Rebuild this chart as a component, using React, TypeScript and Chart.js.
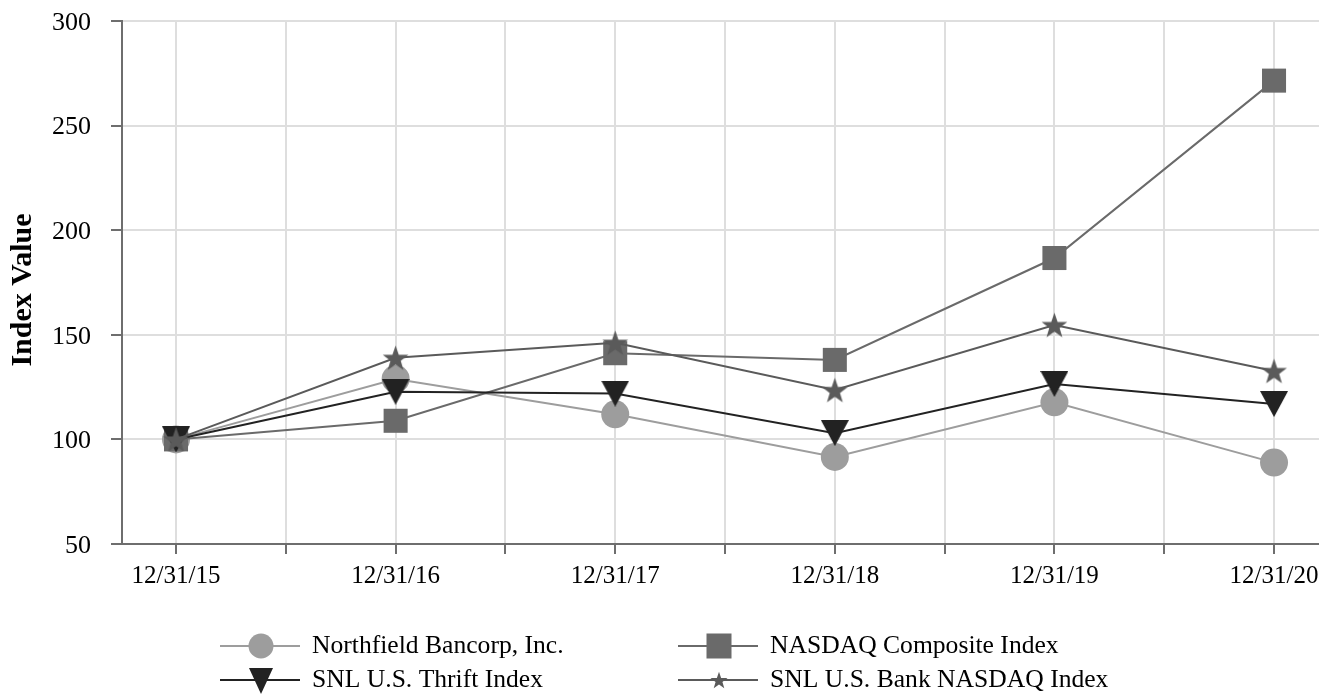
import React, { useEffect, useRef } from 'react';
import { Chart, registerables } from 'chart.js';

Chart.register(...registerables);

const xLabels = ['12/31/15', '12/31/16', '12/31/17', '12/31/18', '12/31/19', '12/31/20'];
const seriesNames = ['Northfield Bancorp, Inc.', 'NASDAQ Composite Index', 'SNL U.S. Thrift Index', 'SNL U.S. Bank NASDAQ Index'];
const northfield = [100, 128.9, 112.0, 91.6, 117.7, 88.9];
const nasdaq = [100, 108.9, 141.2, 138.0, 186.7, 271.5];
const thrift = [100, 122.8, 121.9, 103.0, 126.5, 116.9];
const bank = [100, 139.0, 146.2, 123.6, 154.7, 132.7];
const yTitle = 'Index Value';

const FONT = '"Liberation Serif", "Times New Roman", serif';
const C_NORTH = '#9d9d9d';
const C_NASDAQ = '#6a6a6a';
const C_THRIFT = '#222222';
const C_BANK = '#5a5a5a';

function makeStar(outer: number, inner: number, color: string) {
  const size = Math.ceil(outer * 2) + 2;
  const c = document.createElement('canvas');
  c.width = size;
  c.height = size;
  const ctx = c.getContext('2d')!;
  ctx.fillStyle = color;
  ctx.beginPath();
  const cy = size / 2 + outer * 0.095;
  for (let i = 0; i < 10; i++) {
    const r = i % 2 === 0 ? outer : inner;
    const a = -Math.PI / 2 + (i * Math.PI) / 5;
    const x = size / 2 + r * Math.cos(a);
    const y = cy + r * Math.sin(a);
    if (i === 0) ctx.moveTo(x, y);
    else ctx.lineTo(x, y);
  }
  ctx.closePath();
  ctx.fill();
  return c;
}

function makeTriangle(w: number, h: number, color: string) {
  const c = document.createElement('canvas');
  c.width = w;
  c.height = h;
  const ctx = c.getContext('2d')!;
  ctx.fillStyle = color;
  ctx.beginPath();
  ctx.moveTo(0, 0);
  ctx.lineTo(w, 0);
  ctx.lineTo(w / 2, h);
  ctx.closePath();
  ctx.fill();
  return c;
}

const toPoints = (arr: number[]) => arr.map((v, i) => ({ x: i, y: v }));

export default function App() {
  const ref = useRef<HTMLCanvasElement | null>(null);

  useEffect(() => {
    if (!ref.current) return;
    const starImg = makeStar(13.5, 5.4, C_BANK);
    const triImg = makeTriangle(28, 26, C_THRIFT);

    const overlay = {
      id: 'overlay',
      afterDraw(chart: any) {
        const ctx = chart.ctx as CanvasRenderingContext2D;
        ctx.save();
        ctx.translate(23, 290);
        ctx.rotate(-Math.PI / 2);
        ctx.font = `bold 30px ${FONT}`;
        ctx.fillStyle = '#000';
        ctx.textAlign = 'center';
        ctx.textBaseline = 'middle';
        ctx.fillText(yTitle, 0, 0);
        ctx.restore();

        const items = [
          { col: 0, row: 0, color: C_NORTH, kind: 'circle' },
          { col: 1, row: 0, color: C_NASDAQ, kind: 'square' },
          { col: 0, row: 1, color: C_THRIFT, kind: 'triangle' },
          { col: 1, row: 1, color: C_BANK, kind: 'star' },
        ];
        const colX = [220, 678];
        const rowY = [646, 680];
        items.forEach((it, idx) => {
          const x0 = colX[it.col];
          const y = rowY[it.row];
          const x1 = x0 + 80;
          const mx = x0 + 41;
          ctx.save();
          ctx.strokeStyle = it.color;
          ctx.lineWidth = 2;
          ctx.beginPath();
          ctx.moveTo(x0, y);
          ctx.lineTo(x1, y);
          ctx.stroke();
          ctx.fillStyle = it.color;
          if (it.kind === 'circle') {
            ctx.beginPath();
            ctx.arc(mx, y, 12.5, 0, Math.PI * 2);
            ctx.fill();
          } else if (it.kind === 'square') {
            ctx.fillRect(mx - 12.5, y - 12.5, 25, 25);
          } else if (it.kind === 'triangle') {
            ctx.beginPath();
            ctx.moveTo(mx - 12, y - 12);
            ctx.lineTo(mx + 12, y - 12);
            ctx.lineTo(mx, y + 14);
            ctx.closePath();
            ctx.fill();
          } else {
            const s = makeStar(9, 3.6, it.color);
            ctx.drawImage(s, mx - s.width / 2, y - s.height / 2);
          }
          ctx.fillStyle = '#000';
          ctx.font = `25.6px ${FONT}`;
          ctx.textAlign = 'left';
          ctx.textBaseline = 'middle';
          ctx.fillText(seriesNames[idx], x1 + 12, y);
          ctx.restore();
        });
      },
    };

    const chart = new Chart(ref.current, {
      type: 'line',
      data: {
        datasets: [
          {
            label: seriesNames[0],
            data: toPoints(northfield),
            borderColor: C_NORTH,
            backgroundColor: C_NORTH,
            borderWidth: 2,
            pointStyle: 'circle',
            pointRadius: 14,
            pointBorderWidth: 0,
            order: 4,
          },
          {
            label: seriesNames[1],
            data: toPoints(nasdaq),
            borderColor: C_NASDAQ,
            backgroundColor: C_NASDAQ,
            borderWidth: 2,
            pointStyle: 'rect',
            pointRadius: 17,
            pointBorderWidth: 0,
            order: 3,
          },
          {
            label: seriesNames[2],
            data: toPoints(thrift),
            borderColor: C_THRIFT,
            backgroundColor: C_THRIFT,
            borderWidth: 2,
            pointStyle: triImg as any,
            pointRadius: 14,
            order: 2,
          },
          {
            label: seriesNames[3],
            data: toPoints(bank),
            borderColor: C_BANK,
            backgroundColor: C_BANK,
            borderWidth: 2,
            pointStyle: starImg as any,
            pointRadius: 14,
            order: 1,
          },
        ],
      },
      options: {
        animation: false,
        responsive: false,
        events: [],
        layout: { padding: { left: 0, top: 21, right: 5, bottom: 100 } },
        plugins: {
          legend: { display: false },
          tooltip: { enabled: false },
          title: { display: false },
        },
        elements: { line: { tension: 0 } },
        scales: {
          x: {
            type: 'linear',
            min: -0.246,
            max: 5.223,
            afterBuildTicks: (scale: any) => {
              const t = [];
              for (let i = 0; i <= 2 * (xLabels.length - 1); i++) t.push({ value: i / 2 });
              scale.ticks = t;
            },
            afterFit: (scale: any) => {
              scale.height = 54;
              scale.paddingLeft = 0;
              scale.paddingRight = 0;
              scale.paddingTop = 0;
              scale.paddingBottom = 0;
            },
            grid: {
              color: '#dedede',
              lineWidth: 2,
              tickColor: '#6e6e6e',
              tickLength: 10,
              drawTicks: true,
            },
            border: { color: '#6e6e6e', width: 2 },
            ticks: {
              autoSkip: false,
              maxRotation: 0,
              padding: 7,
              color: '#000',
              font: { family: FONT, size: 25 },
              callback: (v: any) => (Number.isInteger(v) ? xLabels[v] : ''),
            },
          },
          y: {
            min: 50,
            max: 300,
            afterFit: (scale: any) => {
              scale.width = 122;
              scale.paddingLeft = 0;
              scale.paddingRight = 0;
              scale.paddingTop = 0;
              scale.paddingBottom = 0;
            },
            grid: {
              color: '#dedede',
              lineWidth: 2,
              tickColor: '#6e6e6e',
              tickLength: 11,
            },
            border: { color: '#6e6e6e', width: 2 },
            ticks: {
              stepSize: 50,
              padding: 20,
              labelOffset: 2,
              color: '#000',
              font: { family: FONT, size: 26 },
            },
          },
        },
      },
      plugins: [overlay],
    } as any);

    return () => chart.destroy();
  }, []);

  return (
    <div style={{ position: 'absolute', left: 0, top: 0, width: 1319, height: 698, overflow: 'hidden', background: '#fff' }}>
      <canvas ref={ref} width={1340} height={698} style={{ display: 'block', width: 1340, height: 698 }} />
    </div>
  );
}
